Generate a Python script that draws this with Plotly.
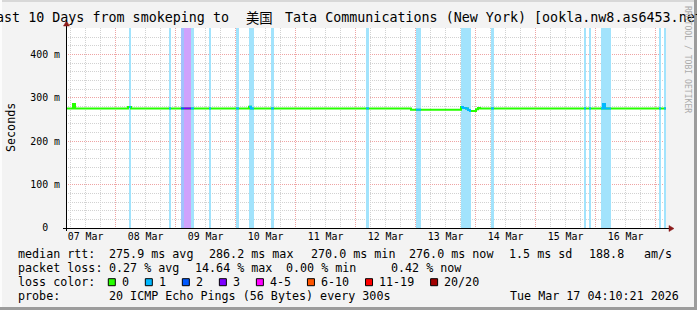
import pandas as pd
import plotly.graph_objects as go

# ---------------- data ----------------
START = "2026-03-07 04:10:21"
END = "2026-03-17 04:10:21"

# median rtt (ms), step series (value holds until next time)
median_times = [
    "2026-03-07 04:10", "2026-03-07 06:58", "2026-03-07 07:46", "2026-03-08 04:58",
    "2026-03-08 06:10", "2026-03-10 05:22", "2026-03-10 06:10", "2026-03-12 22:10",
    "2026-03-13 18:10", "2026-03-13 18:58", "2026-03-13 20:10", "2026-03-13 20:58",
    "2026-03-13 21:46", "2026-03-14 00:10", "2026-03-14 00:58", "2026-03-14 01:46",
    "2026-03-16 02:58", "2026-03-16 03:46", "2026-03-17 04:10",
]
median_ms = [276, 286, 276, 279, 276, 280, 276, 273, 279, 277, 276, 272, 270, 274, 277, 276, 286, 276, 276]

# packet-loss periods (lost pings out of 20)
loss_start = [
    "2026-03-08 05:22", "2026-03-08 21:22", "2026-03-09 02:10", "2026-03-09 03:22",
    "2026-03-09 06:10", "2026-03-09 13:22", "2026-03-10 00:10", "2026-03-10 05:22",
    "2026-03-10 14:10", "2026-03-12 04:10", "2026-03-13 00:10", "2026-03-13 18:10",
    "2026-03-14 06:10", "2026-03-15 19:22", "2026-03-15 21:22", "2026-03-16 02:10",
    "2026-03-17 01:22", "2026-03-17 03:22",
]
loss_end = [
    "2026-03-08 06:10", "2026-03-08 22:10", "2026-03-09 03:22", "2026-03-09 06:10",
    "2026-03-09 07:22", "2026-03-09 14:10", "2026-03-10 01:22", "2026-03-10 07:22",
    "2026-03-10 15:22", "2026-03-12 05:22", "2026-03-13 02:10", "2026-03-13 22:10",
    "2026-03-14 07:22", "2026-03-15 20:10", "2026-03-15 22:10", "2026-03-16 06:10",
    "2026-03-17 02:10", "2026-03-17 04:10",
]
loss_level = [1, 1, 2, 3, 1, 1, 1, 1, 1, 1, 1, 1, 1, 1, 1, 1, 1, 1]

legend_labels = ["0", "1", "2", "3", "4-5", "6-10", "11-19", "20/20"]
legend_colors = ["#26ff00", "#00b8ff", "#0059ff", "#7e00ff", "#ff00ff", "#ff5500", "#ff0000", "#a10000"]
level_index = {0: 0, 1: 1, 2: 2, 3: 3}

y_tickvals = [0, 100, 200, 300, 400]
y_ticktext = ["0\u00a0\u00a0", "100 m", "200 m", "300 m", "400 m"]

title_left = "Last 10 Days from smokeping to"
title_cjk = "美国"
title_right = "Tata Communications (New York) [ookla.nw8.as6453.net]"

stats_rows = [
    ("median rtt:", [("275.9 ms avg", 107.3), ("286.2 ms max", 207.3), ("270.0 ms min", 308.5),
                     ("276.0 ms now", 407.3), ("1.5 ms sd", 507.3), ("188.8", 587.0), ("am/s", 642.3)]),
    ("packet loss:", [("0.27 % avg", 107.3), ("14.64 % max", 192.5), ("0.00 % min", 284.0),
                      ("0.42 % now", 389.3)]),
]
probe_text = "20 ICMP Echo Pings (56 Bytes) every 300s"
date_text = "Tue Mar 17 04:10:21 2026"

# ---------------- layout constants ----------------
W, H = 697, 310
PL, PR, PT, PB = 66, 666, 28, 228
Y_MAX = 461.5
MONO = "DejaVu Sans Mono"


def px(x):
    return (x - PL) / (PR - PL)


def py(y):
    return (PB - y) / (PB - PT)


def blend(hexc, a=0.35):
    r, g, b = int(hexc[1:3], 16), int(hexc[3:5], 16), int(hexc[5:7], 16)
    f = lambda c: int(round(250 * (1 - a) + c * a))
    return "#%02x%02x%02x" % (f(r), f(g), f(b))


med = pd.Series(median_ms, index=pd.to_datetime(median_times))
ls = pd.to_datetime(loss_start)
le = pd.to_datetime(loss_end)

fig = go.Figure()

# loss background bands
for lev in sorted(set(loss_level)):
    idx = [i for i, l in enumerate(loss_level) if l == lev]
    centers = [ls[i] + (le[i] - ls[i]) / 2 for i in idx]
    widths = [(le[i] - ls[i]).total_seconds() * 1000 for i in idx]
    fig.add_trace(go.Bar(
        x=centers, y=[Y_MAX] * len(idx), width=widths, base=0,
        marker=dict(color=blend(legend_colors[level_index[lev]]), line=dict(width=0)),
        hoverinfo="skip", showlegend=False,
    ))

# median line (loss 0 colour)
fig.add_trace(go.Scatter(
    x=med.index, y=med.values, mode="lines", line=dict(color=legend_colors[0], width=2, shape="hv"),
    hoverinfo="skip", showlegend=False,
))

# median line coloured by loss within the loss periods
for s, e, lev in zip(ls, le, loss_level):
    v0 = med[med.index <= s].iloc[-1]
    inside = med[(med.index > s) & (med.index < e)]
    xs = [s] + list(inside.index) + [e]
    ys = [v0] + list(inside.values) + [inside.values[-1] if len(inside) else v0]
    fig.add_trace(go.Scatter(
        x=xs, y=ys, mode="lines", line=dict(color=legend_colors[level_index[lev]], width=2, shape="hv"),
        hoverinfo="skip", showlegend=False,
    ))

MAJOR = "#eea4a4"
MINOR = "#d2d2d2"
DASH = "1px,1px"

fig.update_layout(
    width=W, height=H,
    margin=dict(l=PL, r=W - PR, t=PT, b=H - PB, pad=0),
    paper_bgcolor="#f3f3f3", plot_bgcolor="#ffffff",
    bargap=0, barmode="overlay",
    font=dict(family=MONO, color="#000000"),
    xaxis=dict(
        type="date", range=[START, END], showline=False, zeroline=False,
        tick0="2026-03-07 00:00", dtick=86400000, ticklabelmode="period", tickformat="%d %b",
        ticks="", tickfont=dict(family=MONO, size=9.9, color="#000"), ticklabelstandoff=1,
        showgrid=True, gridcolor=MAJOR, griddash=DASH, gridwidth=1,
        minor=dict(tick0="2026-03-07 00:00", dtick=21600000, showgrid=True,
                   gridcolor=MINOR, griddash=DASH, gridwidth=1),
        fixedrange=True,
    ),
    yaxis=dict(
        range=[0, Y_MAX], tickvals=y_tickvals, ticktext=y_ticktext, ticks="",
        tickfont=dict(family=MONO, size=9.9, color="#000"), ticklabelstandoff=5,
        showline=False, zeroline=False,
        showgrid=True, gridcolor=MAJOR, griddash=DASH, gridwidth=1,
        minor=dict(dtick=20, showgrid=True, gridcolor=MINOR, griddash=DASH, gridwidth=1),
        fixedrange=True,
    ),
)

shapes = []
# frame
shapes.append(dict(type="rect", xref="paper", yref="paper", x0=px(0), x1=px(W), y0=py(0), y1=py(2),
                   fillcolor="#d8d8d8", line=dict(width=0), layer="above"))
shapes.append(dict(type="rect", xref="paper", yref="paper", x0=px(0), x1=px(2), y0=py(0), y1=py(H),
                   fillcolor="#fcfcfc", line=dict(width=0), layer="above"))
shapes.append(dict(type="rect", xref="paper", yref="paper", x0=px(W - 3), x1=px(W), y0=py(0), y1=py(H),
                   fillcolor="#9c9c9c", line=dict(width=0), layer="above"))
shapes.append(dict(type="rect", xref="paper", yref="paper", x0=px(0), x1=px(W), y0=py(H - 3), y1=py(H),
                   fillcolor="#9c9c9c", line=dict(width=0), layer="above"))
# axes
shapes.append(dict(type="line", xref="paper", yref="paper", x0=px(63), x1=px(669), y0=py(228.5), y1=py(228.5),
                   line=dict(color="#000000", width=1), layer="above"))
shapes.append(dict(type="line", xref="paper", yref="paper", x0=px(66.5), x1=px(66.5), y0=py(231), y1=py(25),
                   line=dict(color="#000000", width=1), layer="above"))
# arrows
shapes.append(dict(type="path", xref="paper", yref="paper",
                   path="M %f %f L %f %f L %f %f Z" % (px(669), py(225.5), px(674), py(228.5), px(669), py(231.5)),
                   fillcolor="#8b1a1a", line=dict(color="#8b1a1a", width=0.5), layer="above"))
shapes.append(dict(type="path", xref="paper", yref="paper",
                   path="M %f %f L %f %f L %f %f Z" % (px(63.5), py(26), px(66.5), py(21), px(69.5), py(26)),
                   fillcolor="#8b1a1a", line=dict(color="#8b1a1a", width=0.5), layer="above"))

annotations = []


def text(x, y, s, size=11.7, xanchor="left", color="#000", angle=0, family=MONO):
    annotations.append(dict(xref="paper", yref="paper", x=px(x), y=py(y), text=s, showarrow=False,
                            xanchor=xanchor, yanchor="middle", textangle=angle,
                            font=dict(family=family, size=size, color=color)))


# title
text(230.5, 18, title_left, size=13.35, xanchor="right")
text(259, 18, title_cjk, size=13.35, xanchor="center", family="Noto Sans CJK SC")
text(282.5, 18, title_right, size=13.35, xanchor="left")
# y label
text(11, 128, "Seconds", size=11.7, xanchor="center", angle=-90)
# rrdtool credit
text(688, 59, "RRDTOOL / TOBI OETIKER", size=8.1, xanchor="center", color="#ababab", angle=90)

# stats rows
row_y = [254.3, 268.3, 282.2, 296.3]
for (label, items), y in zip(stats_rows, row_y[:2]):
    text(16, y, label)
    for s, x in items:
        text(x, y, s)

# loss colour legend
text(16, row_y[2], "loss color:")
CH = 7.02
sq = 108.3
for lab, col in zip(legend_labels, legend_colors):
    shapes.append(dict(type="rect", xref="paper", yref="paper", x0=px(sq), x1=px(sq + 7),
                       y0=py(row_y[2] + 3.5), y1=py(row_y[2] - 3.5),
                       fillcolor=col, line=dict(color="#000", width=1), layer="above"))
    lx = sq + 11.7
    text(lx, row_y[2], lab)
    sq = lx + len(lab) * CH + 18.3

# probe row
text(16, row_y[3], "probe:")
text(107.3, row_y[3], probe_text)
text(681, row_y[3], date_text, xanchor="right")

fig.update_layout(shapes=shapes, annotations=annotations)
fig.write_html("out.html", config={"displayModeBar": False, "staticPlot": True})
